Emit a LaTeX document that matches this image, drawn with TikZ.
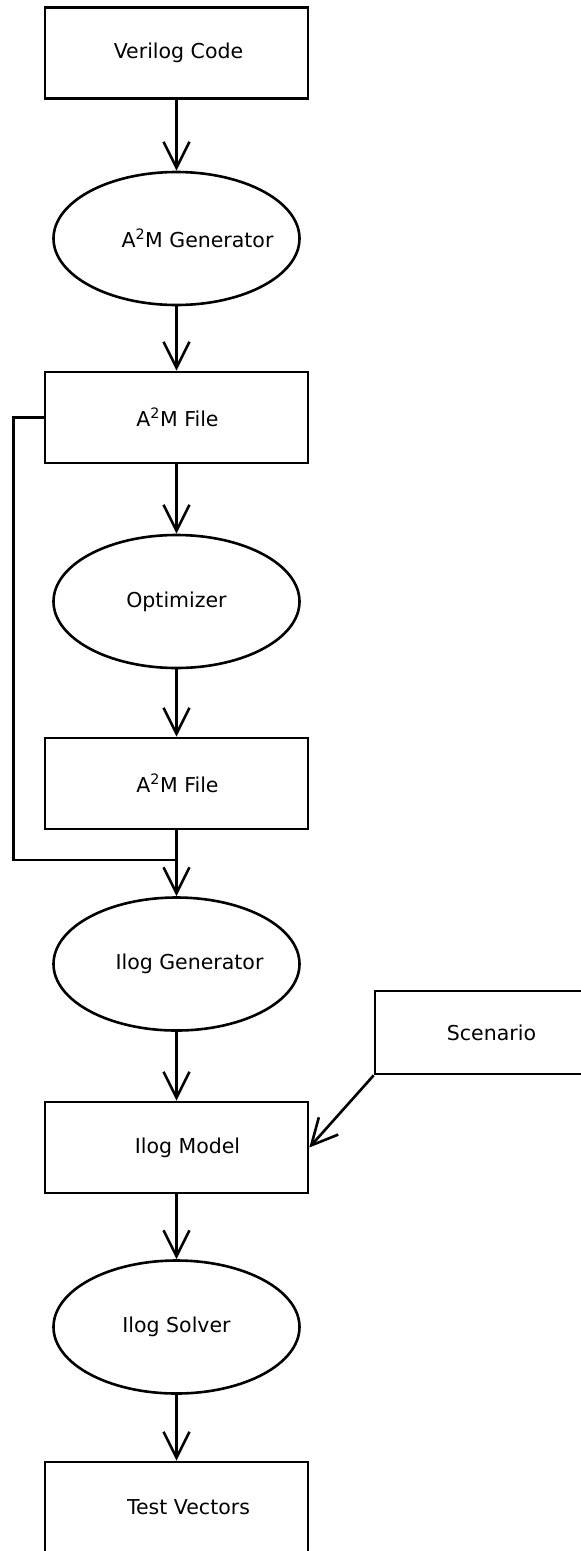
\documentclass[tikz,border=0pt]{standalone}
\usepackage{fontspec}
\setmainfont{DejaVu Sans}
\usetikzlibrary{shapes.geometric, arrows.meta}

\begin{document}
\begin{tikzpicture}[
	x=1pt, y=1pt,
	block/.style={rectangle, draw=black, line width=2.6pt, minimum width=263pt, minimum height=91pt, inner sep=0pt},
	proc/.style={ellipse, draw=black, line width=2.6pt, minimum width=246pt, minimum height=133pt, inner sep=0pt},
	txt/.style={font=\fontsize{20.5}{24}\selectfont, inner sep=0pt},
	flow/.style={line width=2.6pt, -{Straight Barb[length=26pt, width=26pt]}},
	wire/.style={line width=2.6pt},
]
	% Page frame: the last box and the scenario box run off the edge
	\useasboundingbox (0,0) rectangle (581,-1551);
	\clip (0,0) rectangle (581,-1551);

	% Main chain, top to bottom
	\node[block, label={[txt, xshift=2pt]center:Verilog Code}] (verilog) at (176.5,-53) {};
	\node[proc, label={[txt, xshift=21pt]center:A\textsuperscript{2}M Generator}] (a2mgen) at (176.5,-238.5) {};
	\node[block, label={[txt, xshift=1pt]center:A\textsuperscript{2}M File}] (a2mfile) at (176.5,-417.5) {};
	\node[proc, label={[txt]center:Optimizer}] (optim) at (176.5,-601.5) {};
	\node[block, label={[txt, xshift=1pt]center:A\textsuperscript{2}M File}] (optfile) at (176.5,-783.5) {};
	\node[proc, label={[txt, xshift=13pt]center:Ilog Generator}] (iloggen) at (176.5,-964) {};
	\node[block, label={[txt, xshift=11pt]center:Ilog Model}] (ilogmodel) at (176.5,-1147.5) {};
	\node[proc, label={[txt]center:Ilog Solver}] (ilogsolver) at (176.5,-1327) {};
	\node[block, label={[txt, xshift=12pt]center:Test Vectors}] (testvec) at (176.5,-1507.5) {};

	% Side input
	\node[block, minimum height=83pt, label={[txt, xshift=-15pt]center:Scenario}] (scenario) at (506.5,-1032.5) {};

	% Arrows down the chain
	\foreach \a/\b in {verilog/a2mgen, a2mgen/a2mfile, a2mfile/optim, optim/optfile,
		optfile/iloggen, iloggen/ilogmodel, ilogmodel/ilogsolver, ilogsolver/testvec} {
		\draw[flow] (\a) -- (\b);
	}

	% Bypass of the optimizer
	\coordinate (merge) at (176.5,-860);
	\draw[wire] (a2mfile.west) -- ++(-30,0) |- (merge);

	% Scenario into the model
	\draw[flow] (scenario.south west) -- (ilogmodel.east);
\end{tikzpicture}
\end{document}
